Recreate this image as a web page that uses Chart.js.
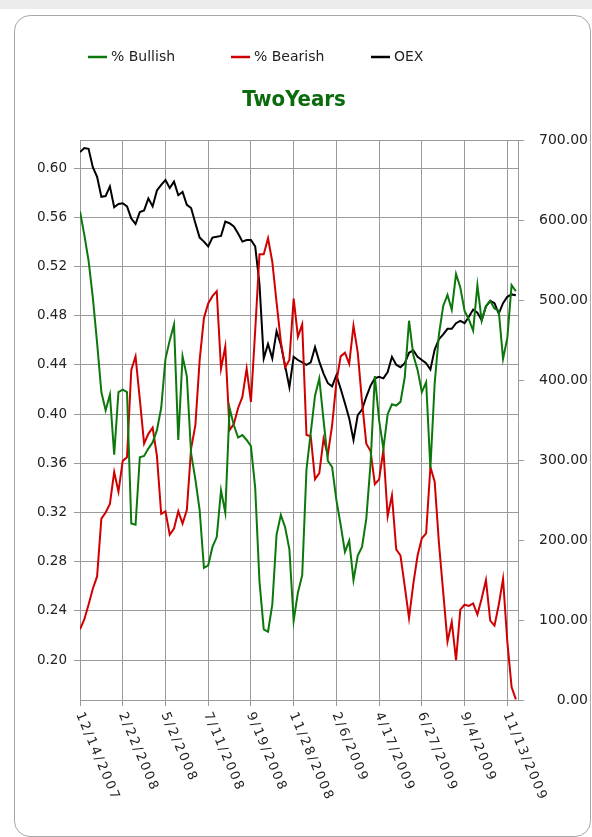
<!DOCTYPE html>
<html>
<head>
<meta charset="utf-8">
<script src="https://cdn.jsdelivr.net/npm/chart.js@4.4.1/dist/chart.umd.min.js"></script>
<style>
  html, body { margin: 0; padding: 0; background: #ffffff; }
  body { width: 592px; height: 837px; position: relative; overflow: hidden; }
  #strip { position: absolute; left: 0; top: 0; width: 592px; height: 9px; background: #ebebeb; }
  #card { position: absolute; left: 14px; top: 15px; width: 575px; height: 820px;
          border: 1px solid #a8a8a8; border-radius: 16px; background: #fff; }
  #c { position: absolute; left: 0; top: 0; }
</style>
</head>
<body>
<div id="strip"></div>
<div id="card"></div>
<canvas id="c" width="592" height="837"></canvas>
<script>
// ---- data (weekly readings, index 0 = 12/14/2007) ----
const tickIndex = [0, 10, 20, 30, 40, 50, 60, 70, 80, 90, 100];
const tickDates = ["12/14/2007", "2/22/2008", "5/2/2008", "7/11/2008", "9/19/2008",
                   "11/28/2008", "2/6/2009", "4/17/2009", "6/27/2009", "9/4/2009", "11/13/2009"];
const leftTicks = [0.20, 0.24, 0.28, 0.32, 0.36, 0.40, 0.44, 0.48, 0.52, 0.56, 0.60];
const rightTicks = [0, 100, 200, 300, 400, 500, 600, 700];

const bullish = [
  0.565, 0.546, 0.525, 0.495, 0.458, 0.418, 0.403, 0.416, 0.367, 0.418,
  0.420, 0.418, 0.311, 0.310, 0.365, 0.366, 0.372, 0.377, 0.387, 0.405,
  0.445, 0.460, 0.473, 0.379, 0.447, 0.431, 0.368, 0.347, 0.322, 0.275,
  0.277, 0.292, 0.300, 0.338, 0.320, 0.405, 0.391, 0.381, 0.383, 0.379,
  0.374, 0.340, 0.264, 0.225, 0.223, 0.245, 0.302, 0.318, 0.308, 0.290,
  0.232, 0.255, 0.269, 0.355, 0.385, 0.415, 0.429, 0.395, 0.362, 0.357,
  0.330, 0.310, 0.288, 0.297, 0.265, 0.285, 0.292, 0.315, 0.360, 0.431,
  0.395, 0.372, 0.400, 0.408, 0.407, 0.410, 0.430, 0.476, 0.448, 0.436,
  0.418, 0.426, 0.356, 0.425, 0.465, 0.488, 0.497, 0.485, 0.514, 0.503,
  0.484, 0.477, 0.468, 0.505, 0.476, 0.488, 0.492, 0.486, 0.484, 0.445,
  0.462, 0.505, 0.500
];
const bearish = [
  0.225, 0.233, 0.245, 0.258, 0.268, 0.315, 0.320, 0.327, 0.353, 0.337,
  0.362, 0.365, 0.436, 0.447, 0.412, 0.376, 0.384, 0.389, 0.366, 0.319,
  0.321, 0.302, 0.307, 0.321, 0.311, 0.322, 0.372, 0.391, 0.444, 0.478,
  0.490, 0.496, 0.500, 0.437, 0.455, 0.387, 0.392, 0.405, 0.414, 0.437,
  0.410, 0.468, 0.530, 0.530, 0.543, 0.524, 0.491, 0.459, 0.438, 0.444,
  0.494, 0.463, 0.473, 0.383, 0.382, 0.347, 0.352, 0.380, 0.367, 0.391,
  0.426, 0.447, 0.450, 0.441, 0.472, 0.450, 0.410, 0.376, 0.370, 0.343,
  0.347, 0.371, 0.317, 0.334, 0.290, 0.285, 0.260, 0.234, 0.262, 0.285,
  0.299, 0.303, 0.357, 0.345, 0.295, 0.255, 0.215, 0.231, 0.200, 0.241,
  0.245, 0.244, 0.246, 0.237, 0.250, 0.265, 0.232, 0.228, 0.245, 0.266,
  0.215, 0.178, 0.168
];
const oex = [
  685, 690, 689, 666, 654, 629, 630, 642, 616, 620,
  621, 617, 602, 595, 610, 612, 627, 617, 637, 644,
  650, 640, 648, 631, 635, 619, 615, 596, 578, 573,
  567, 578, 579, 580, 598, 596, 592, 583, 573, 575,
  575, 567, 520, 427, 445, 427, 461, 444, 418, 391,
  429, 425, 422, 419, 422, 441, 423, 408, 396, 392,
  406, 389, 371, 352, 325, 356, 363, 379, 393, 402,
  404, 402, 410, 429, 419, 416, 421, 434, 437, 429,
  425, 421, 413, 438, 451, 457, 464, 464, 471, 474,
  471, 479, 488, 484, 475, 492, 499, 496, 483, 496,
  504, 507, 506
];

const toXY = arr => arr.map((v, i) => ({ x: i, y: v }));
const FONT = "'DejaVu Sans', Verdana, sans-serif";
const TITLE_FONT = "'DejaVu Sans Condensed', 'DejaVu Sans', Verdana, sans-serif";
const GRID = '#9a9a9a';

const frame = {
  id: 'frame',
  beforeDatasetsDraw(chart) {
    const { ctx, chartArea: a } = chart;
    ctx.save();
    ctx.strokeStyle = GRID;
    ctx.lineWidth = 1;
    ctx.beginPath();
    ctx.moveTo(a.left, Math.round(a.top) + 0.5);
    ctx.lineTo(a.right, Math.round(a.top) + 0.5);
    ctx.stroke();
    ctx.restore();
  }
};

// legend drawn in fixed slots like the original widget
const slotLegend = {
  id: 'slotLegend',
  afterDraw(chart) {
    const { ctx } = chart;
    const slots = [88, 231, 371];
    const y = 57;
    ctx.save();
    ctx.font = "14px " + FONT;
    ctx.textAlign = 'left';
    ctx.textBaseline = 'middle';
    chart.data.datasets.forEach((ds, i) => {
      const x = slots[i];
      ctx.strokeStyle = ds.borderColor;
      ctx.lineWidth = 2.5;
      ctx.beginPath();
      ctx.moveTo(x, y);
      ctx.lineTo(x + 19, y);
      ctx.stroke();
      ctx.fillStyle = '#222';
      ctx.fillText(ds.label, x + 23, y);
    });
    ctx.restore();
  }
};

const xLabels = {
  id: 'xLabels',
  afterDraw(chart) {
    const { ctx, chartArea: a } = chart;
    const xs = chart.scales.x;
    ctx.save();
    ctx.font = "13px " + FONT;
    ctx.fillStyle = '#222';
    ctx.textAlign = 'left';
    ctx.textBaseline = 'middle';
    try { ctx.letterSpacing = '2px'; } catch (e) {}
    tickIndex.forEach((idx, k) => {
      const px = xs.getPixelForValue(idx);
      ctx.save();
      ctx.translate(px - 1, a.bottom + 13);
      ctx.rotate(67 * Math.PI / 180);
      ctx.fillText(tickDates[k], 0, 0);
      ctx.restore();
    });
    ctx.restore();
  }
};

new Chart(document.getElementById('c'), {
  type: 'line',
  data: {
    datasets: [
      { label: '% Bullish', data: toXY(bullish), yAxisID: 'yL', borderColor: '#0c780c', backgroundColor: '#0c780c', borderWidth: 2, pointRadius: 0, tension: 0 },
      { label: '% Bearish', data: toXY(bearish), yAxisID: 'yL', borderColor: '#d10000', backgroundColor: '#d10000', borderWidth: 2, pointRadius: 0, tension: 0 },
      { label: 'OEX', data: toXY(oex), yAxisID: 'yR', borderColor: '#000000', backgroundColor: '#000000', borderWidth: 2, pointRadius: 0, tension: 0 }
    ]
  },
  options: {
    responsive: false,
    animation: false,
    layout: { padding: { top: 60, left: 0, right: 4, bottom: 0 } },
    plugins: {
      legend: { display: false },
      title: {
        display: true,
        text: 'TwoYears',
        color: '#0b6a0b',
        font: { family: TITLE_FONT, size: 22, weight: 'bold' },
        padding: { top: 26.8, bottom: 26.8 }
      },
      tooltip: { enabled: false }
    },
    scales: {
      x: {
        type: 'linear',
        position: 'bottom',
        min: 0,
        max: 102.5,
        afterBuildTicks: s => { s.ticks = tickIndex.map(v => ({ value: v })); },
        afterFit: s => { s.height = 137; },
        ticks: { display: false },
        grid: { color: GRID, lineWidth: 1, tickLength: 6, drawTicks: true },
        border: { color: GRID, width: 1 }
      },
      yL: {
        type: 'linear',
        position: 'left',
        min: 0.1675,
        max: 0.623,
        afterBuildTicks: s => { s.ticks = leftTicks.map(v => ({ value: v })); },
        afterFit: s => { s.width = 80; },
        ticks: { color: '#222', font: { family: FONT, size: 13.5 }, padding: 7, callback: v => Number(v).toFixed(2) },
        grid: { color: GRID, lineWidth: 1, tickLength: 6 },
        border: { color: GRID, width: 1 }
      },
      yR: {
        type: 'linear',
        position: 'right',
        min: 0,
        max: 700,
        afterBuildTicks: s => { s.ticks = rightTicks.map(v => ({ value: v })); },
        afterFit: s => { s.width = 70; },
        ticks: { color: '#222', font: { family: FONT, size: 14 }, padding: 11, crossAlign: 'far', callback: v => Number(v).toFixed(2) },
        grid: { drawOnChartArea: false, color: GRID, lineWidth: 1, tickLength: 6 },
        border: { color: GRID, width: 1 }
      }
    }
  },
  plugins: [frame, slotLegend, xLabels]
});
</script>
</body>
</html>
